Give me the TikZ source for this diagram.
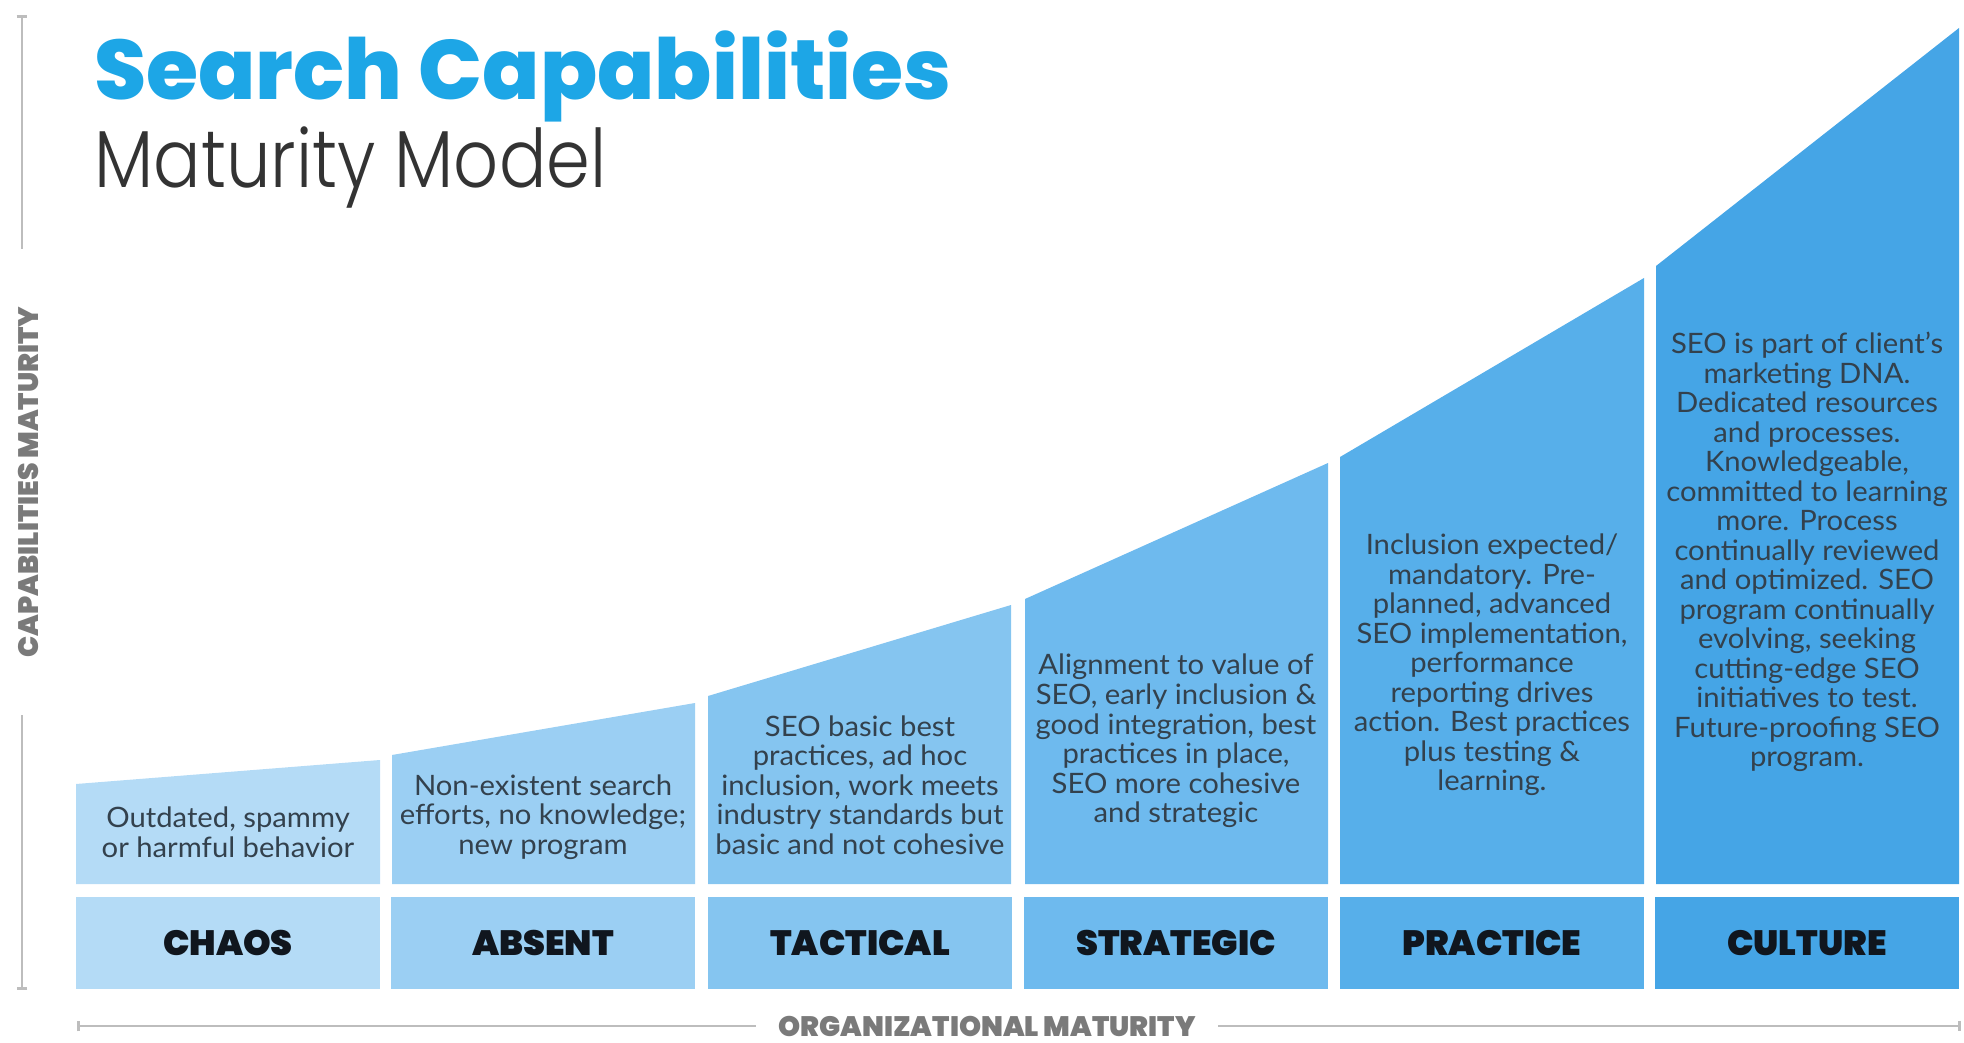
\documentclass[tikz,border=0pt]{standalone}
\usepackage{fontspec}
\setmainfont{Lato}[FakeStretch=1.04]
\newfontfamily\heavyfont{Poppins Black}
\newfontfamily\titlefont{Poppins ExtraBold}
\newfontfamily\lightfont{Poppins Light}[FakeStretch=0.87]
\usetikzlibrary{arrows.meta}

\definecolor{cchaos}{HTML}{B4DBF6}
\definecolor{cabsent}{HTML}{9BCFF3}
\definecolor{ctactical}{HTML}{85C5F0}
\definecolor{cstrategic}{HTML}{6EBAEE}
\definecolor{cpractice}{HTML}{57AFEA}
\definecolor{cculture}{HTML}{45A5E6}
\definecolor{titlecol}{HTML}{1DA6E6}
\definecolor{subcol}{HTML}{333333}
\definecolor{desccol}{HTML}{33414D}
\definecolor{stagecol}{HTML}{10161E}
\definecolor{axiscol}{HTML}{BDBDBD}
\definecolor{axistext}{HTML}{7A7A7A}

\begin{document}
\begin{tikzpicture}[x=0.02cm, y=-0.02cm,
    desc/.style={align=center, text=desccol, font=\fontsize{16}{16.8}\selectfont},
    stage/.style={minimum width=6.07cm, minimum height=1.86cm, inner sep=0pt,
      text=stagecol, font=\heavyfont\fontsize{20}{22}\selectfont},
    axis/.style={draw=axiscol, line width=1.6pt},
    axislabel/.style={text=axistext, inner ysep=0pt,
      font=\heavyfont\fontsize{16}{18}\selectfont}]
    \useasboundingbox (0,0) rectangle (1964,1043);

    % title
    \node[anchor=base west, inner sep=0pt, text=titlecol,
      font=\titlefont\fontsize{48}{48}\selectfont] (title) at (94,100) {Search Capabilities};
    \node[anchor=base west, inner sep=0pt, text=subcol,
      font=\lightfont\fontsize{46}{46}\selectfont] (subtitle) at (94,188) {Maturity Model};

    % rising panels
    \fill[cchaos] (76,884) -- (76,784) -- (380,760) -- (380,884) -- cycle;
    \fill[cabsent] (392,884) -- (392,755) -- (695,703) -- (695,884) -- cycle;
    \fill[ctactical] (708,884) -- (708,696) -- (1011,605) -- (1011,884) -- cycle;
    \fill[cstrategic] (1025,884) -- (1025,599) -- (1328,463) -- (1328,884) -- cycle;
    \fill[cpractice] (1340,884) -- (1340,457) -- (1644,278) -- (1644,884) -- cycle;
    \fill[cculture] (1656,884) -- (1656,266) -- (1959,28) -- (1959,884) -- cycle;

    \node[desc] (tchaos) at (228,832) {Outdated, spammy\\or harmful behavior};
    \node[desc] (tabsent) at (543,817) {Non-existent search\\efforts, no knowledge;\\new program};
    \node[desc] (ttactical) at (860,785) {SEO basic best\\practices, ad hoc\\inclusion, work meets\\industry standards but\\basic and not cohesive};
    \node[desc] (tstrategic) at (1176,741) {Alignment to value of\\SEO, early inclusion \&\\good integration, best\\practices in place,\\SEO more cohesive\\and strategic};
    \node[desc] (tpractice) at (1492,665) {Inclusion expected/\\mandatory. Pre-\\planned, advanced\\SEO implementation,\\performance\\reporting drives\\action. Best practices\\plus testing \&\\learning.};
    \node[desc] (tculture) at (1807,552) {SEO is part of client’s\\marketing DNA.\\Dedicated resources\\and processes.\\Knowledgeable,\\committed to learning\\more. Process\\continually reviewed\\and optimized. SEO\\program continually\\evolving, seeking\\cutting-edge SEO\\initiatives to test.\\Future-proofing SEO\\program.};

    % stage bars
    \node[stage, fill=cchaos] (lchaos) at (228,943) {CHAOS};
    \node[stage, fill=cabsent] (labsent) at (543,943) {ABSENT};
    \node[stage, fill=ctactical] (ltactical) at (860,943) {TACTICAL};
    \node[stage, fill=cstrategic] (lstrategic) at (1176,943) {STRATEGIC};
    \node[stage, fill=cpractice] (lpractice) at (1492,943) {PRACTICE};
    \node[stage, fill=cculture] (lculture) at (1807,943) {CULTURE};

    % axes
    \coordinate (ytop) at (22,15);
    \coordinate (ybot) at (22,990);
    \node[axislabel, rotate=90, inner xsep=1.15cm] (ylabel) at (28,482) {CAPABILITIES MATURITY};
    \draw[axis, {Bar[width=6pt]}-] (ytop) -- (ytop |- ylabel.east);
    \draw[axis, -{Bar[width=6pt]}] (ytop |- ylabel.west) -- (ybot);

    \coordinate (xleft) at (77,1026);
    \coordinate (xright) at (1961,1026);
    \node[axislabel, inner xsep=0.45cm] (xlabel) at (987,1026) {ORGANIZATIONAL MATURITY};
    \draw[axis, {Bar[width=6pt]}-] (xleft) -- (xlabel.west);
    \draw[axis, -{Bar[width=6pt]}] (xlabel.east) -- (xright);
  \end{tikzpicture}
\end{document}
